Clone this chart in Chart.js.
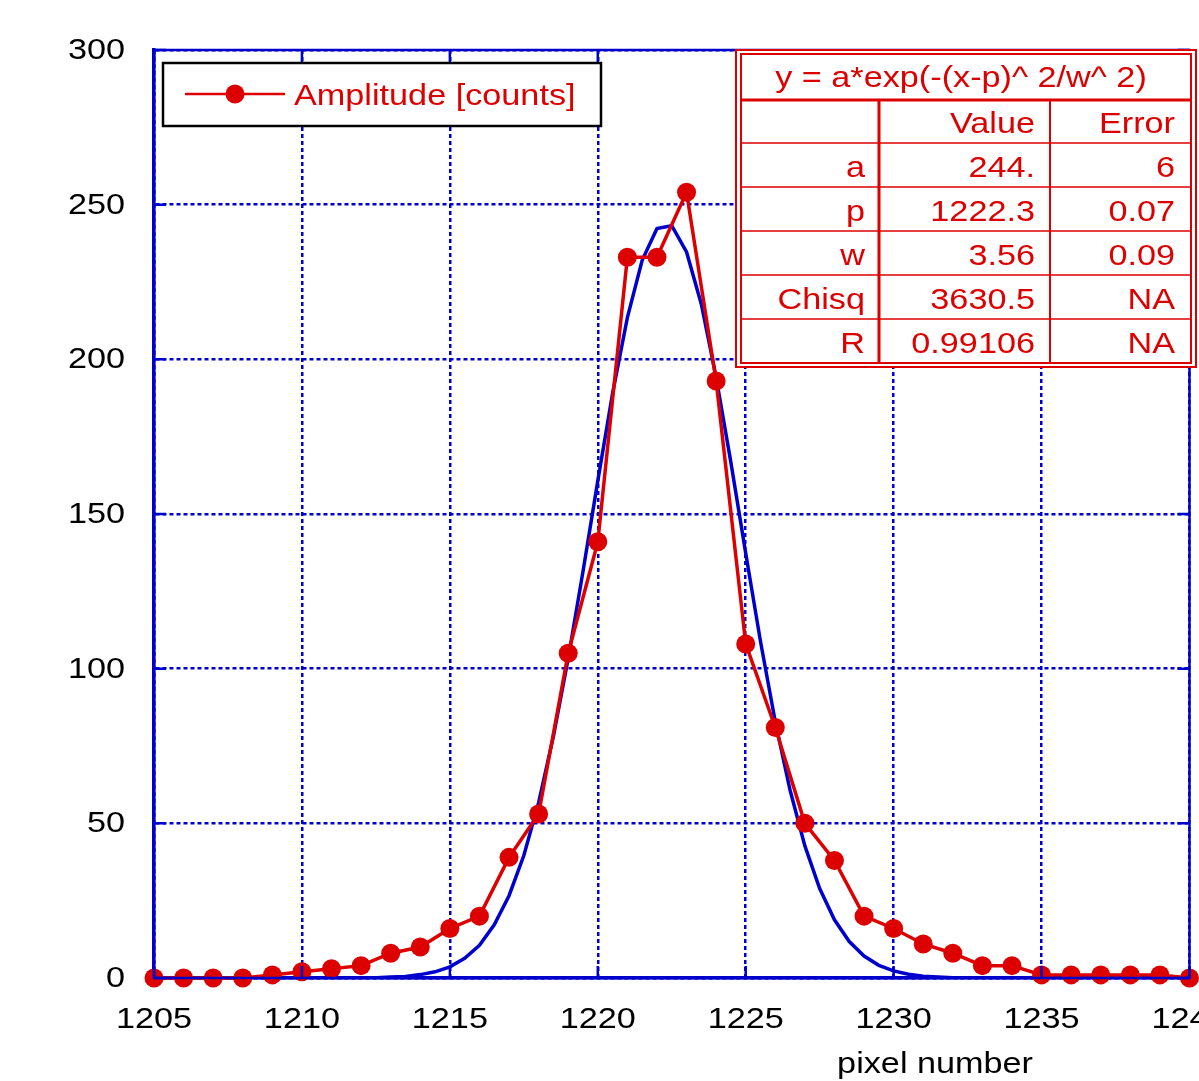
<!DOCTYPE html>
<html lang="en">
<head>
    <meta charset="UTF-8">
    <title>Amplitude vs pixel number</title>
    <script src="https://cdn.jsdelivr.net/npm/chart.js"></script>
    <style>
        html, body { margin: 0; padding: 0; overflow: hidden; background: #fff; }
    </style>
</head>
<body>
    <canvas id="myChart" width="1199" height="1081"></canvas>
    <script>
        // measured amplitudes, one per pixel
        const pixels = [1205, 1206, 1207, 1208, 1209, 1210, 1211, 1212, 1213, 1214, 1215, 1216,
            1217, 1218, 1219, 1220, 1221, 1222, 1223, 1224, 1225, 1226, 1227, 1228, 1229, 1230,
            1231, 1232, 1233, 1234, 1235, 1236, 1237, 1238, 1239, 1240];
        const amplitude = [0, 0, 0, 0, 1, 2, 3, 4, 8, 10, 16, 20,
            39, 53, 105, 141, 233, 233, 254, 193, 108, 81, 50, 38, 20, 16,
            11, 8, 4, 4, 1, 1, 1, 1, 1, 0];

        // gaussian fit curve
        const fitX = [1205, 1212, 1212.5, 1213, 1213.5, 1214, 1214.5, 1215, 1215.5, 1216, 1216.5,
            1217, 1217.5, 1218, 1218.5, 1219, 1219.5, 1220, 1220.5, 1221, 1221.5, 1222, 1222.5,
            1223, 1223.5, 1224, 1224.5, 1225, 1225.5, 1226, 1226.5, 1227, 1227.5, 1228, 1228.5,
            1229, 1229.5, 1230, 1230.5, 1231, 1231.5, 1232, 1233, 1240];
        const fitY = [0, 0.1, 0.1, 0.3, 0.5, 1.1, 2.0, 3.6, 6.4, 10.6, 17.2,
            26.6, 39.6, 56.7, 78.1, 103.3, 131.4, 160.7, 189.0, 213.5, 232.0, 242.3, 243.2,
            234.7, 217.8, 194.2, 166.6, 137.3, 108.8, 82.8, 60.7, 42.7, 28.9, 18.8, 11.8,
            7.1, 4.1, 2.3, 1.2, 0.6, 0.3, 0.1, 0, 0];

        const xTicks = [1205, 1210, 1215, 1220, 1225, 1230, 1235, 1240];
        const yTicks = [0, 50, 100, 150, 200, 250, 300];

        const fitTitle = 'y = a*exp(-(x-p)^ 2/w^ 2)';
        const fitHeader = ['', 'Value', 'Error'];
        const fitRows = [
            ['a', '244.', '6'],
            ['p', '1222.3', '0.07'],
            ['w', '3.56', '0.09'],
            ['Chisq', '3630.5', 'NA'],
            ['R', '0.99106', 'NA']
        ];

        const RED = '#dd0000';
        const BLUE = '#0000cc';
        const FONT = '"Liberation Sans", Arial, sans-serif';

        // the original text is a bit stretched sideways
        function wideText(ctx, txt, x, y, align) {
            ctx.save();
            ctx.translate(x, y);
            ctx.scale(1.18, 1);
            ctx.textAlign = align;
            ctx.textBaseline = 'alphabetic';
            ctx.font = '29px ' + FONT;
            ctx.fillText(txt, 0, 0);
            ctx.restore();
        }

        const extras = {
            id: 'extras',
            afterDraw(chart) {
                const ctx = chart.ctx;
                const a = chart.chartArea;
                const xs = chart.scales.x;
                const ys = chart.scales.y;
                ctx.save();

                // frame + inward ticks
                ctx.strokeStyle = BLUE;
                ctx.lineWidth = 2.5;
                ctx.strokeRect(a.left, a.top, a.right - a.left, a.bottom - a.top);
                ctx.beginPath();
                xTicks.forEach(v => {
                    const px = xs.getPixelForValue(v);
                    ctx.moveTo(px, a.bottom); ctx.lineTo(px, a.bottom - 12);
                    ctx.moveTo(px, a.top); ctx.lineTo(px, a.top + 12);
                });
                yTicks.forEach(v => {
                    const py = ys.getPixelForValue(v);
                    ctx.moveTo(a.left, py); ctx.lineTo(a.left + 12, py);
                    ctx.moveTo(a.right, py); ctx.lineTo(a.right - 12, py);
                });
                ctx.stroke();

                // tick labels
                ctx.fillStyle = '#000';
                xTicks.forEach(v => wideText(ctx, String(v), xs.getPixelForValue(v), a.bottom + 50, 'center'));
                yTicks.forEach(v => wideText(ctx, String(v), a.left - 29, ys.getPixelForValue(v) + 9, 'right'));

                // axis title
                wideText(ctx, 'pixel number', xs.getPixelForValue(1231.4), 1073, 'center');

                // legend
                ctx.fillStyle = '#fff';
                ctx.fillRect(163, 63, 438, 63);
                ctx.strokeStyle = '#000';
                ctx.lineWidth = 2.5;
                ctx.strokeRect(163, 63, 438, 63);
                ctx.strokeStyle = RED;
                ctx.lineWidth = 2.5;
                ctx.beginPath();
                ctx.moveTo(185, 94); ctx.lineTo(285, 94);
                ctx.stroke();
                ctx.fillStyle = RED;
                ctx.beginPath();
                ctx.arc(235, 94, 9.5, 0, Math.PI * 2);
                ctx.fill();
                wideText(ctx, 'Amplitude [counts]', 294, 105, 'left');

                // fit table
                ctx.fillStyle = '#fff';
                ctx.fillRect(735, 49, 462, 319);
                ctx.strokeStyle = RED;
                ctx.lineWidth = 2;
                ctx.strokeRect(736, 50, 460, 317);
                ctx.strokeRect(741, 54, 450, 309);
                ctx.lineWidth = 3;
                ctx.beginPath();
                ctx.moveTo(741, 100); ctx.lineTo(1191, 100);
                ctx.moveTo(879, 100); ctx.lineTo(879, 363);
                ctx.stroke();
                ctx.lineWidth = 2;
                ctx.beginPath();
                ctx.moveTo(1050, 100); ctx.lineTo(1050, 363);
                ctx.stroke();
                ctx.lineWidth = 1.5;
                ctx.beginPath();
                [143, 187, 231, 275, 319].forEach(y => {
                    ctx.moveTo(741, y); ctx.lineTo(1191, y);
                });
                ctx.stroke();

                ctx.fillStyle = RED;
                wideText(ctx, fitTitle, 961, 87, 'center');
                const colRight = [865, 1035, 1175];
                const rows = [fitHeader].concat(fitRows);
                rows.forEach((row, i) => {
                    const y = 133 + i * 44;
                    row.forEach((txt, j) => wideText(ctx, txt, colRight[j], y, 'right'));
                });
                ctx.restore();
            }
        };

        const ctx = document.getElementById('myChart').getContext('2d');
        const myChart = new Chart(ctx, {
            type: 'line',
            data: {
                datasets: [{
                    label: 'Amplitude [counts]',
                    data: pixels.map((p, i) => ({ x: p, y: amplitude[i] })),
                    borderColor: RED,
                    backgroundColor: RED,
                    borderWidth: 3.5,
                    pointRadius: 9.5,
                    pointHoverRadius: 9.5,
                    pointBorderWidth: 0,
                    tension: 0,
                    fill: false,
                    clip: false,
                    order: 1
                }, {
                    label: 'fit',
                    data: fitX.map((p, i) => ({ x: p, y: fitY[i] })),
                    borderColor: BLUE,
                    borderWidth: 3.5,
                    pointRadius: 0,
                    tension: 0,
                    fill: false,
                    order: 2
                }]
            },
            options: {
                responsive: false,
                animation: false,
                events: [],
                layout: { padding: { top: 50, right: 8, left: 0, bottom: 0 } },
                plugins: {
                    legend: { display: false },
                    tooltip: { enabled: false }
                },
                scales: {
                    x: {
                        type: 'linear',
                        min: 1205,
                        max: 1240,
                        afterBuildTicks: s => { s.ticks = xTicks.map(v => ({ value: v })); },
                        afterFit: s => { s.height = 103; },
                        ticks: { display: false },
                        grid: { color: BLUE, lineWidth: 2.5, drawTicks: false },
                        border: { color: BLUE, width: 3.5, dash: [4, 3] }
                    },
                    y: {
                        min: 0,
                        max: 300,
                        afterBuildTicks: s => { s.ticks = yTicks.map(v => ({ value: v })); },
                        afterFit: s => { s.width = 154; },
                        ticks: { display: false },
                        grid: { color: BLUE, lineWidth: 2.5, drawTicks: false },
                        border: { color: BLUE, width: 3.5, dash: [4, 3] }
                    }
                }
            },
            plugins: [extras]
        });
    </script>
</body>
</html>
